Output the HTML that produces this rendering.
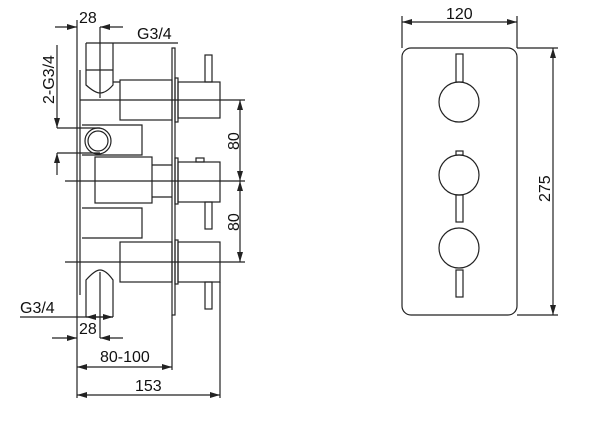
<!DOCTYPE html><html><head><style>body{margin:0;background:#fff}svg{display:block}text{font-family:"Liberation Sans",sans-serif;font-size:16px;fill:#111}</style></head><body>
<svg width="600" height="441" viewBox="0 0 600 441" fill="none" stroke="#222" stroke-width="1.2">
<defs><marker id="a" viewBox="0 0 10 6" refX="10" refY="3" markerWidth="9" markerHeight="5" orient="auto-start-reverse"><path d="M0,0L10,3L0,6z" fill="#222" stroke="none"/></marker></defs>
<rect x="402" y="48" width="115" height="267" rx="9"/>
<line x1="402" y1="16" x2="402" y2="48"/><line x1="517" y1="16" x2="517" y2="48"/>
<line x1="402" y1="22" x2="517" y2="22" marker-start="url(#a)" marker-end="url(#a)"/>
<text x="446" y="19" stroke="none">120</text>
<line x1="517" y1="48" x2="558" y2="48"/><line x1="517" y1="315" x2="558" y2="315"/>
<line x1="553" y1="48" x2="553" y2="315" marker-start="url(#a)" marker-end="url(#a)"/>
<text transform="translate(550,202) rotate(-90)" stroke="none">275</text>
<circle cx="459" cy="102" r="20"/><circle cx="459" cy="175" r="20"/><circle cx="459" cy="248" r="20"/>
<rect x="456" y="54" width="7" height="28"/><rect x="456" y="195" width="7" height="27"/><rect x="456" y="270" width="7" height="27"/><rect x="456" y="151" width="7" height="4"/>
<line x1="77" y1="20" x2="77" y2="398"/><line x1="80" y1="70" x2="80" y2="295"/>
<line x1="55" y1="27" x2="77" y2="27" marker-end="url(#a)"/><line x1="123" y1="27" x2="100" y2="27" marker-end="url(#a)"/>
<text x="79" y="23" stroke="none">28</text>
<line x1="100" y1="27" x2="100" y2="98"/>
<line x1="86" y1="43" x2="178" y2="43"/><text x="137" y="39" stroke="none">G3/4</text>
<path d="M86 43V70H113V43M86 70V85Q95 93 100 93Q106 93 113 85V70M113 82H120"/>
<text transform="translate(54,104) rotate(-90)" stroke="none">2-G3/4</text>
<line x1="57" y1="45" x2="57" y2="128" marker-end="url(#a)"/><line x1="57" y1="175" x2="57" y2="153" marker-end="url(#a)"/>
<line x1="57" y1="128" x2="100" y2="128"/><line x1="57" y1="153" x2="100" y2="153"/>
<circle cx="98" cy="141" r="13"/><circle cx="98" cy="141" r="10"/>
<path d="M82 125H142V155H82M82 208H142V238H82"/>
<rect x="172" y="48" width="3" height="267"/>
<rect x="120" y="80" width="52" height="40"/><rect x="175" y="78" width="3" height="44"/><rect x="178" y="82" width="42" height="36"/><rect x="205" y="55" width="7" height="27"/>
<rect x="95" y="157" width="57" height="46"/><line x1="152" y1="165" x2="172" y2="165"/><line x1="152" y1="197" x2="172" y2="197"/>
<rect x="175" y="158" width="3" height="46"/><rect x="178" y="162" width="42" height="40"/><rect x="196" y="158" width="8" height="4"/><rect x="205" y="202" width="7" height="27"/>
<rect x="120" y="242" width="52" height="40"/><rect x="175" y="240" width="3" height="44"/><rect x="178" y="242" width="42" height="40"/><rect x="205" y="282" width="7" height="27"/>
<path d="M86 317V280Q95 270 100 270Q106 270 113 280V317"/><line x1="100" y1="272" x2="100" y2="338"/>
<line x1="80" y1="100" x2="245" y2="100"/><line x1="65" y1="181" x2="245" y2="181"/><line x1="65" y1="262" x2="245" y2="262"/>
<line x1="240" y1="100" x2="240" y2="181" marker-start="url(#a)" marker-end="url(#a)"/>
<line x1="240" y1="181" x2="240" y2="262" marker-start="url(#a)" marker-end="url(#a)"/>
<text transform="translate(239,150) rotate(-90)" stroke="none">80</text>
<text transform="translate(239,231) rotate(-90)" stroke="none">80</text>
<line x1="20" y1="317" x2="113" y2="317"/><line x1="86" y1="317" x2="113" y2="317" marker-start="url(#a)" marker-end="url(#a)"/>
<text x="20" y="313" stroke="none">G3/4</text>
<line x1="52" y1="338" x2="77" y2="338" marker-end="url(#a)"/><line x1="123" y1="338" x2="100" y2="338" marker-end="url(#a)"/>
<text x="79" y="334" stroke="none">28</text>
<line x1="172" y1="315" x2="172" y2="370"/><line x1="220" y1="282" x2="220" y2="398"/>
<line x1="77" y1="367" x2="172" y2="367" marker-start="url(#a)" marker-end="url(#a)"/>
<text x="100" y="362" stroke="none">80-100</text>
<line x1="77" y1="395" x2="220" y2="395" marker-start="url(#a)" marker-end="url(#a)"/>
<text x="135" y="391" stroke="none">153</text>
</svg></body></html>
